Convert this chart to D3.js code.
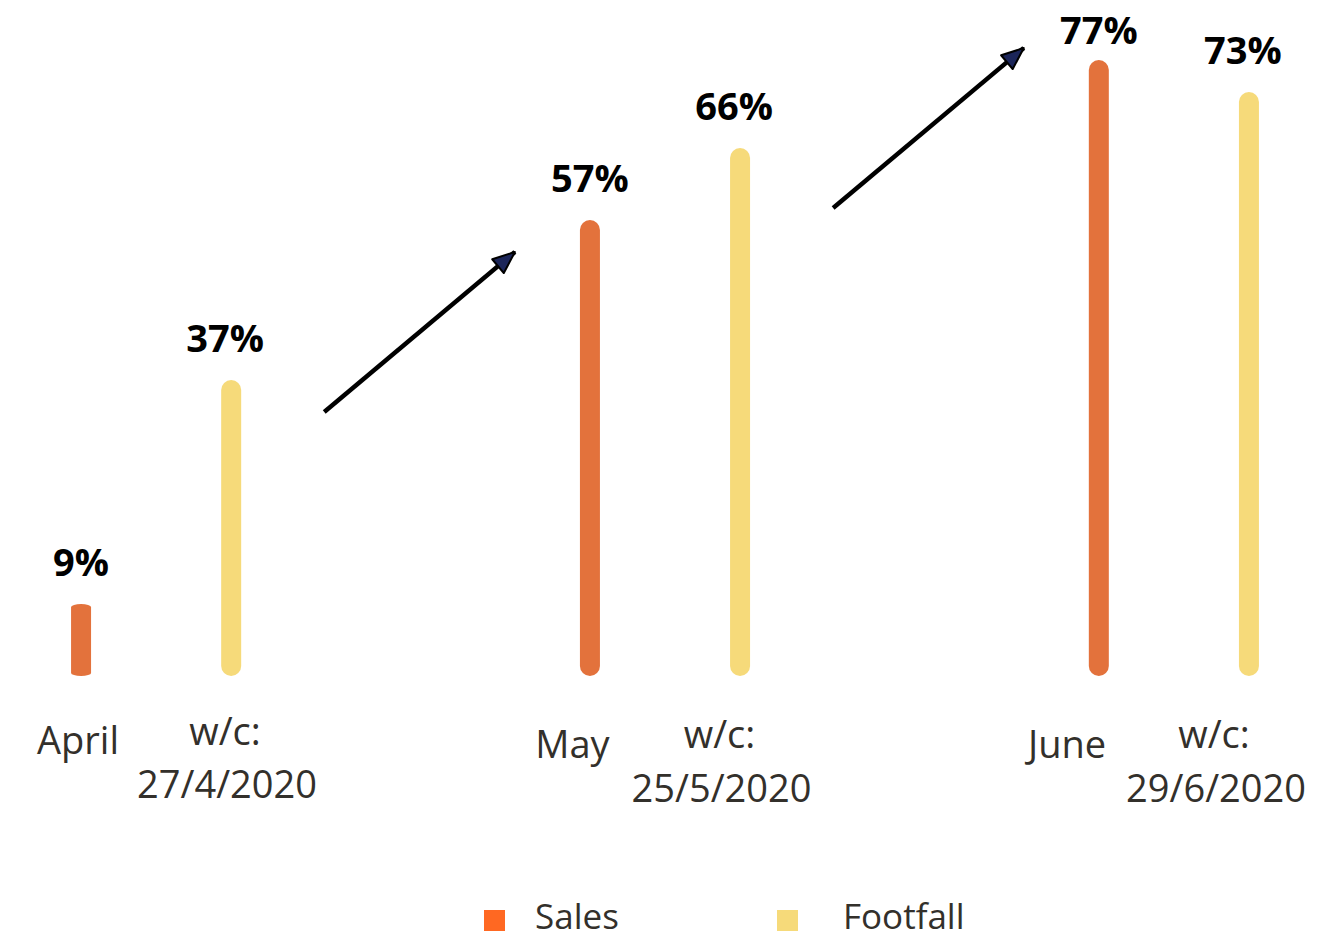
<!DOCTYPE html>
<html>
<head>
<meta charset="utf-8">
<script src="https://cdn.jsdelivr.net/npm/d3@7"></script>
<style>
  html, body { margin: 0; padding: 0; background: #ffffff; }
  svg { display: block; }
</style>
</head>
<body>
<svg id="chart" width="1336" height="939"></svg>
<script>
// Months compared, with the week-commencing date of each footfall reading
const months = ["April", "May", "June"];
const weekLabels = ["27/4/2020", "25/5/2020", "29/6/2020"];
const series = ["Sales", "Footfall"];

// Percentage values per month
const salesValues = [9, 57, 77];
const footfallValues = [37, 66, 73];

// Trend arrows between consecutive months (start/end levels in %)
const trendArrows = [
  { from: "April", to: "May", start: 33, end: 53 },
  { from: "May", to: "June", start: 58.5, end: 78.5 }
];

const colors = { Sales: "#E3723C", Footfall: "#F6DA7A" };
const legendColors = { Sales: "#FF6822", Footfall: "#F6DA7A" };
const textColor = "#33302B";

const svg = d3.select("#chart");

const x0 = d3.scaleBand().domain(months).range([6, 1324]).paddingInner(0.41);
const x1 = d3.scaleBand().domain(series).range([0, x0.bandwidth()]);
const y = d3.scaleLinear().domain([0, 100]).range([676, -124]);

// Category labels sit on a slightly tighter spacing than the bars
const monthLabelX = d3.scalePoint().domain(months).range([78, 1067]);
const weekLabelX = d3.scalePoint().domain(months).range([225, 1214]);

const rows = months.map((m, i) => ({
  month: m,
  week: weekLabels[i],
  values: [
    { key: "Sales", value: salesValues[i] },
    { key: "Footfall", value: footfallValues[i] }
  ]
}));

const barW = 20;
const cx = (m, k) => x0(m) + x1(k) + x1.bandwidth() / 2;

const groups = svg.selectAll("g.month")
  .data(rows)
  .join("g")
  .attr("class", "month");

// Bars with rounded ends
groups.selectAll("rect")
  .data(d => d.values.map(v => ({ ...v, month: d.month })))
  .join("rect")
  .attr("x", d => cx(d.month, d.key) - barW / 2)
  .attr("y", d => y(d.value))
  .attr("width", barW)
  .attr("height", d => y(0) - y(d.value))
  .attr("rx", barW / 2)
  .attr("ry", d => (y(0) - y(d.value)) < 100 ? 3 : barW / 2)
  .attr("fill", d => colors[d.key]);

// Value labels
groups.selectAll("text.value")
  .data(d => d.values.map(v => ({ ...v, month: d.month })))
  .join("text")
  .attr("class", "value")
  .attr("x", d => cx(d.month, d.key) - (d.key === "Footfall" ? 6 : 0))
  .attr("y", d => Math.max(44, y(d.value) - 28))
  .attr("text-anchor", "middle")
  .attr("font-family", "'Open Sans', sans-serif")
  .attr("font-weight", 700)
  .attr("font-size", 38)
  .attr("fill", "#000")
  .text(d => d.value + "%");

// Month labels under the sales bars
groups.append("text")
  .attr("x", d => monthLabelX(d.month))
  .attr("y", (d, i) => i === 0 ? 754 : 758)
  .attr("text-anchor", "middle")
  .attr("font-family", "'Open Sans', sans-serif")
  .attr("font-size", 38)
  .attr("fill", textColor)
  .text(d => d.month);

// Week-commencing labels under the footfall bars
const wk = groups.append("text")
  .attr("text-anchor", "middle")
  .attr("font-family", "'Open Sans', sans-serif")
  .attr("font-size", 38)
  .attr("fill", textColor);
wk.append("tspan")
  .attr("x", d => weekLabelX(d.month))
  .attr("y", (d, i) => i === 0 ? 745 : 748)
  .text("w/c:");
wk.append("tspan")
  .attr("x", d => weekLabelX(d.month) + 2)
  .attr("y", (d, i) => i === 0 ? 798 : 802)
  .text(d => d.week);

// Arrowhead marker
svg.append("defs").append("marker")
  .attr("id", "head")
  .attr("markerUnits", "userSpaceOnUse")
  .attr("viewBox", "0 0 26 22")
  .attr("refX", 24)
  .attr("refY", 11)
  .attr("markerWidth", 26)
  .attr("markerHeight", 22)
  .attr("orient", "auto")
  .append("path")
  .attr("d", "M2,2 L24,11 L2,20 Z")
  .attr("fill", "#1B2559")
  .attr("stroke", "#000")
  .attr("stroke-width", 2)
  .attr("stroke-linejoin", "round");

svg.selectAll("line.trend")
  .data(trendArrows)
  .join("line")
  .attr("class", "trend")
  .attr("x1", d => x0(d.from) + x0.bandwidth() + 18)
  .attr("y1", d => y(d.start))
  .attr("x2", d => x0(d.to))
  .attr("y2", d => y(d.end))
  .attr("stroke", "#000")
  .attr("stroke-width", 4.5)
  .attr("marker-end", "url(#head)");

// Legend
const legend = svg.append("g").attr("class", "legend");
const legendItems = legend.selectAll("g")
  .data(series)
  .join("g")
  .attr("transform", (d, i) => `translate(${484 + i * 293},910)`);
legendItems.append("rect")
  .attr("width", 21)
  .attr("height", 21)
  .attr("fill", d => legendColors[d]);
legendItems.append("text")
  .attr("x", (d, i) => i === 0 ? 51 : 66)
  .attr("y", 19)
  .attr("font-family", "'Open Sans', sans-serif")
  .attr("font-size", 35)
  .attr("fill", textColor)
  .text(d => d);
</script>
</body>
</html>
